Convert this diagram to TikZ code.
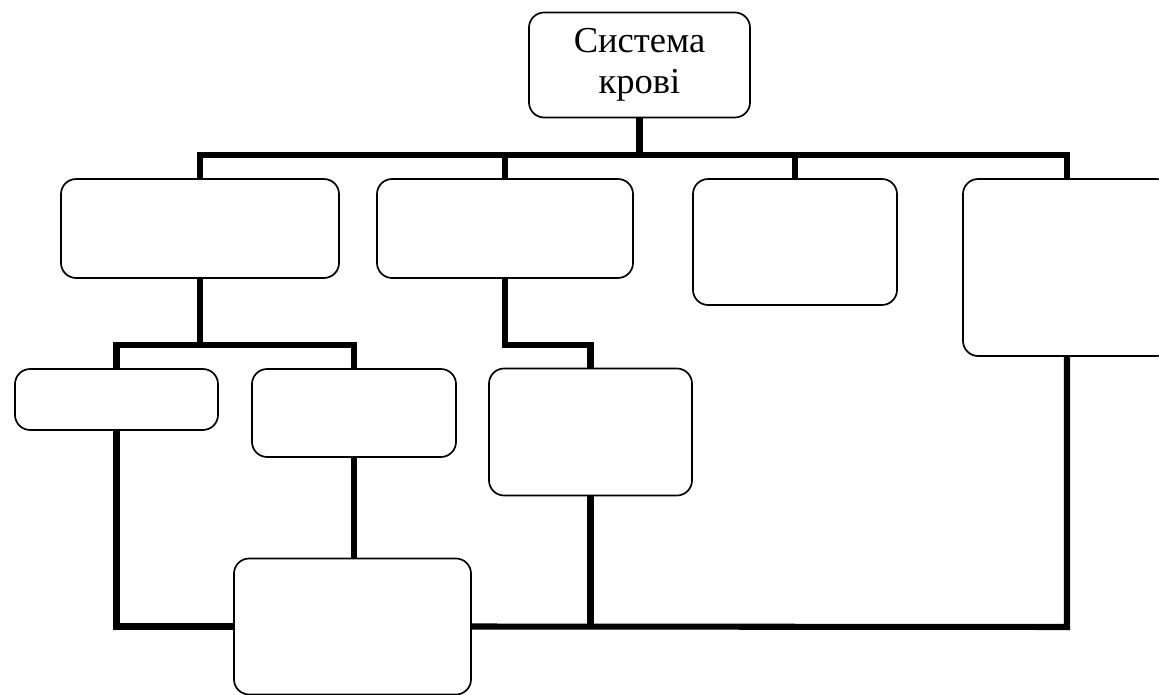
\documentclass[tikz,border=0pt]{standalone}
\usepackage{fontspec}
\setmainfont{Liberation Serif}
\usepackage{tikz}
\usetikzlibrary{positioning,calc}
\tikzset{
    blockbox/.style={
        draw,
        rounded corners=0.38cm,
        fill=white,
        line width=1.2pt,
        inner sep=0pt,
        outer sep=0pt
    },
    rootbox/.style={
        blockbox,
        align=center,
        font=\fontsize{26}{29}\selectfont
    },
    busline/.style={
        line width=4.3pt,
        draw=black
    }
}

\begin{document}
\begin{tikzpicture}[x=0.025cm, y=-0.025cm]
    \useasboundingbox (0,0) rectangle (1159,695);
    \clip (0,0) rectangle (1159,695);

    % boxes
    \node[rootbox, minimum width=5.525cm, minimum height=2.625cm] (root) at (639.5,65) {Система\\крові};
    \node[blockbox, minimum width=6.95cm, minimum height=2.475cm] (bloodA) at (200,228.5) {};
    \node[blockbox, minimum width=6.4cm, minimum height=2.475cm] (bloodB) at (505,228.5) {};
    \node[blockbox, minimum width=5.1cm, minimum height=3.15cm] (bloodC) at (795,242) {};
    \node[blockbox, minimum width=5.2cm, minimum height=4.425cm] (bloodD) at (1067,267.5) {};
    \node[blockbox, minimum width=5.075cm, minimum height=1.525cm] (subE) at (116.5,399.5) {};
    \node[blockbox, minimum width=5.1cm, minimum height=2.2cm] (subF) at (354,413) {};
    \node[blockbox, minimum width=5.075cm, minimum height=3.175cm] (subG) at (590.5,432) {};
    \node[blockbox, minimum width=5.925cm, minimum height=3.4cm] (endH) at (352.5,626.5) {};

    % bus points
    \coordinate (busL) at (200,155);
    \coordinate (busR) at (1067,155);
    \coordinate (subA) at (200,345);
    \coordinate (subB) at (505,345);
    \coordinate (botR) at (1067,627);

    % connectors
    \draw[busline] (root.south) -- (root.south |- busL);
    \draw[busline] (bloodA.north) -- (busL) -- (busR) -- (bloodD.north);
    \draw[busline] (bloodB.north) -- (bloodB.north |- busL);
    \draw[busline] (bloodC.north) -- (bloodC.north |- busL);
    \draw[busline] (bloodA.south) -- (subA);
    \draw[busline] (subE.north) |- (subA) -| (subF.north);
    \draw[busline] (bloodB.south) -- (subB) -| (subG.north);
    \draw[busline] (subF.south) -- (subF.south |- endH.north);
    \draw[busline] (subE.south) |- (endH.west);
    \draw[busline] (endH.east) -- (botR) -- (bloodD.south);
    \draw[busline] (subG.south) -- (subG.south |- botR);
\end{tikzpicture}
\end{document}
